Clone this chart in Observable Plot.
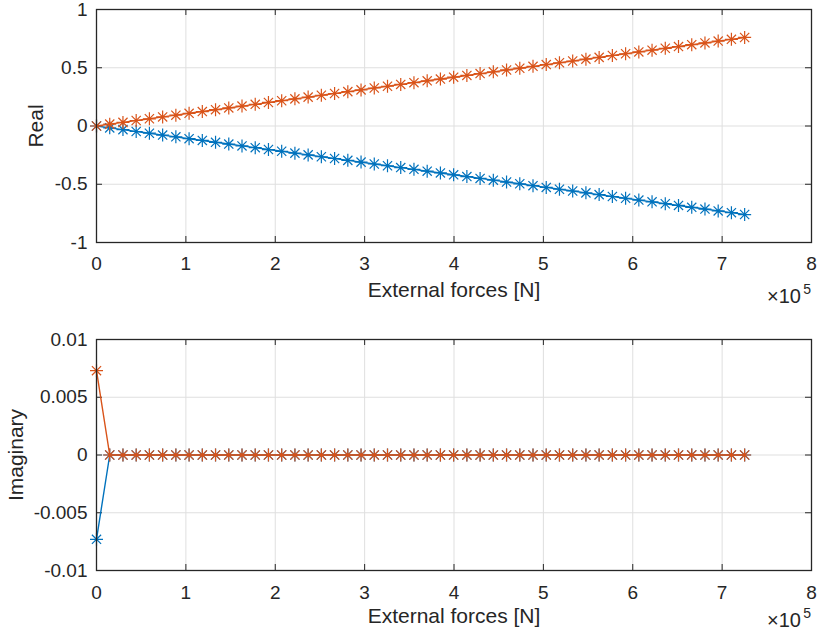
<!DOCTYPE html>
<html>
<head>
<meta charset="utf-8">
<script src="https://cdn.jsdelivr.net/npm/d3@7"></script>
<script src="https://cdn.jsdelivr.net/npm/@observablehq/plot@0.6"></script>
<style>
  html, body { margin: 0; padding: 0; background: #fff; }
  #wrap { position: relative; width: 819px; height: 634px; font-family: "Liberation Sans", Arial, sans-serif; color: #262626; }
  #wrap svg { display: block; }
  .exp { position: absolute; white-space: nowrap; }
  .exp.base { font-size: 20px; line-height: 20px; }
  .exp.pow { font-size: 14px; line-height: 14px; }
</style>
</head>
<body>
<div id="wrap"></div>
<script>
// External force values [N]
const force = [0, 14800, 29600, 44400, 59200, 74000, 88800, 103600, 118400, 133200,
  148000, 162800, 177600, 192400, 207200, 222000, 236800, 251600, 266400, 281200,
  296000, 310800, 325600, 340400, 355200, 370000, 384800, 399600, 414400, 429200,
  444000, 458800, 473600, 488400, 503200, 518000, 532800, 547600, 562400, 577200,
  592000, 606800, 621600, 636400, 651200, 666000, 680800, 695600, 710400, 725200];

// Real parts (series 1 = blue, series 2 = orange)
const real1 = [0, -0.016, -0.031, -0.047, -0.062, -0.078, -0.093, -0.109, -0.124, -0.140,
  -0.155, -0.171, -0.186, -0.202, -0.217, -0.233, -0.248, -0.264, -0.279, -0.295,
  -0.310, -0.326, -0.341, -0.357, -0.372, -0.388, -0.403, -0.419, -0.434, -0.450,
  -0.465, -0.481, -0.496, -0.512, -0.527, -0.543, -0.558, -0.574, -0.589, -0.605,
  -0.620, -0.636, -0.651, -0.667, -0.682, -0.698, -0.713, -0.729, -0.744, -0.760];
const real2 = [0, 0.016, 0.031, 0.047, 0.062, 0.078, 0.093, 0.109, 0.124, 0.140,
  0.155, 0.171, 0.186, 0.202, 0.217, 0.233, 0.248, 0.264, 0.279, 0.295,
  0.310, 0.326, 0.341, 0.357, 0.372, 0.388, 0.403, 0.419, 0.434, 0.450,
  0.465, 0.481, 0.496, 0.512, 0.527, 0.543, 0.558, 0.574, 0.589, 0.605,
  0.620, 0.636, 0.651, 0.667, 0.682, 0.698, 0.713, 0.729, 0.744, 0.760];

// Imaginary parts
const imag1 = [-0.0073, 0, 0, 0, 0, 0, 0, 0, 0, 0,
  0, 0, 0, 0, 0, 0, 0, 0, 0, 0,
  0, 0, 0, 0, 0, 0, 0, 0, 0, 0,
  0, 0, 0, 0, 0, 0, 0, 0, 0, 0,
  0, 0, 0, 0, 0, 0, 0, 0, 0, 0];
const imag2 = [0.0073, 0, 0, 0, 0, 0, 0, 0, 0, 0,
  0, 0, 0, 0, 0, 0, 0, 0, 0, 0,
  0, 0, 0, 0, 0, 0, 0, 0, 0, 0,
  0, 0, 0, 0, 0, 0, 0, 0, 0, 0,
  0, 0, 0, 0, 0, 0, 0, 0, 0, 0];

// Tick values
const xTicks = [0, 100000, 200000, 300000, 400000, 500000, 600000, 700000, 800000];
const yTicksReal = [-1, -0.5, 0, 0.5, 1];
const yTicksImag = [-0.01, -0.005, 0, 0.005, 0.01];

const xLabel = "External forces [N]";
const yLabelReal = "Real";
const yLabelImag = "Imaginary";

const BLUE = "#0072BD";
const ORANGE = "#D95319";
const AXIS = "#262626";
const GRID = "#dfdfdf";

// MATLAB-like asterisk marker (8 arms)
const asterisk = {
  draw(ctx, size) {
    const r = Math.sqrt(size / Math.PI);
    const d = r * Math.SQRT1_2;
    ctx.moveTo(-r, 0); ctx.lineTo(r, 0);
    ctx.moveTo(0, -r); ctx.lineTo(0, r);
    ctx.moveTo(-d, -d); ctx.lineTo(d, d);
    ctx.moveTo(-d, d); ctx.lineTo(d, -d);
  }
};

function makePanel({s1, s2, yDomain, yTicks, yLabel, height, marginTop, marginBottom, yLabelDx, xLabelDy, xTickPad}) {
  const data1 = force.map((x, i) => ({x, y: s1[i]}));
  const data2 = force.map((x, i) => ({x, y: s2[i]}));
  const W = 819, mL = 96, mR = 8;
  const fh = height - marginTop - marginBottom;
  const fw = W - mL - mR;
  const inner = xTicks.slice(1, -1);
  const innerY = yTicks.slice(1, -1);
  return Plot.plot({
    width: W, height,
    marginLeft: mL, marginRight: mR, marginTop, marginBottom,
    style: {fontFamily: '"Liberation Sans", Arial, sans-serif', fontSize: "19px", color: AXIS, background: "#fff"},
    x: {domain: [0, 800000]},
    y: {domain: yDomain},
    marks: [
      Plot.gridX(inner, {stroke: GRID, strokeOpacity: 1}),
      Plot.gridY(innerY, {stroke: GRID, strokeOpacity: 1}),
      // inside tick marks (bottom, top, left, right)
      Plot.ruleX(inner, {x: d => d, stroke: AXIS, insetTop: fh - 6}),
      Plot.ruleX(inner, {x: d => d, stroke: AXIS, insetBottom: fh - 6}),
      Plot.ruleY(innerY, {y: d => d, stroke: AXIS, insetRight: fw - 6}),
      Plot.ruleY(innerY, {y: d => d, stroke: AXIS, insetLeft: fw - 6}),
      Plot.axisX({ticks: xTicks, tickFormat: d => String(d / 100000), tickSize: 0, tickPadding: xTickPad, fill: AXIS, fontSize: 19, label: null}),
      Plot.axisY({ticks: yTicks, tickFormat: d => String(d), tickSize: 0, tickPadding: 9, fill: AXIS, fontSize: 19, label: null}),
      Plot.line(data1, {x: "x", y: "y", stroke: BLUE, strokeWidth: 1.4}),
      Plot.dot(data1, {x: "x", y: "y", symbol: asterisk, r: 6.5, stroke: BLUE, strokeWidth: 1.2, fill: "none"}),
      Plot.line(data2, {x: "x", y: "y", stroke: ORANGE, strokeWidth: 1.4}),
      Plot.dot(data2, {x: "x", y: "y", symbol: asterisk, r: 6.5, stroke: ORANGE, strokeWidth: 1.2, fill: "none"}),
      Plot.frame({stroke: AXIS, strokeWidth: 1.3}),
      Plot.text([xLabel], {text: d => d, frameAnchor: "bottom", dy: xLabelDy, lineAnchor: "top", fontSize: 21, fill: AXIS}),
      Plot.text([yLabel], {text: d => d, frameAnchor: "left", dx: yLabelDx, rotate: -90, lineAnchor: "middle", textAnchor: "middle", fontSize: 21, fill: AXIS})
    ]
  });
}

const wrap = document.getElementById("wrap");
wrap.appendChild(makePanel({s1: real1, s2: real2, yDomain: [-1, 1], yTicks: yTicksReal, yLabel: yLabelReal,
  height: 317, marginTop: 9, marginBottom: 75, yLabelDx: -60, xLabelDy: 40, xTickPad: 14}));
wrap.appendChild(makePanel({s1: imag1, s2: imag2, yDomain: [-0.01, 0.01], yTicks: yTicksImag, yLabel: yLabelImag,
  height: 317, marginTop: 22, marginBottom: 64, yLabelDx: -80, xLabelDy: 38, xTickPad: 15}));

function addExp(baseTop, powTop) {
  const b = document.createElement("span");
  b.className = "exp base";
  b.style.right = "18px";
  b.style.top = baseTop + "px";
  b.textContent = "×10";
  wrap.appendChild(b);
  const p = document.createElement("span");
  p.className = "exp pow";
  p.style.right = "8px";
  p.style.top = powTop + "px";
  p.textContent = "5";
  wrap.appendChild(p);
}
addExp(286, 282);
addExp(610, 606);
</script>
</body>
</html>
